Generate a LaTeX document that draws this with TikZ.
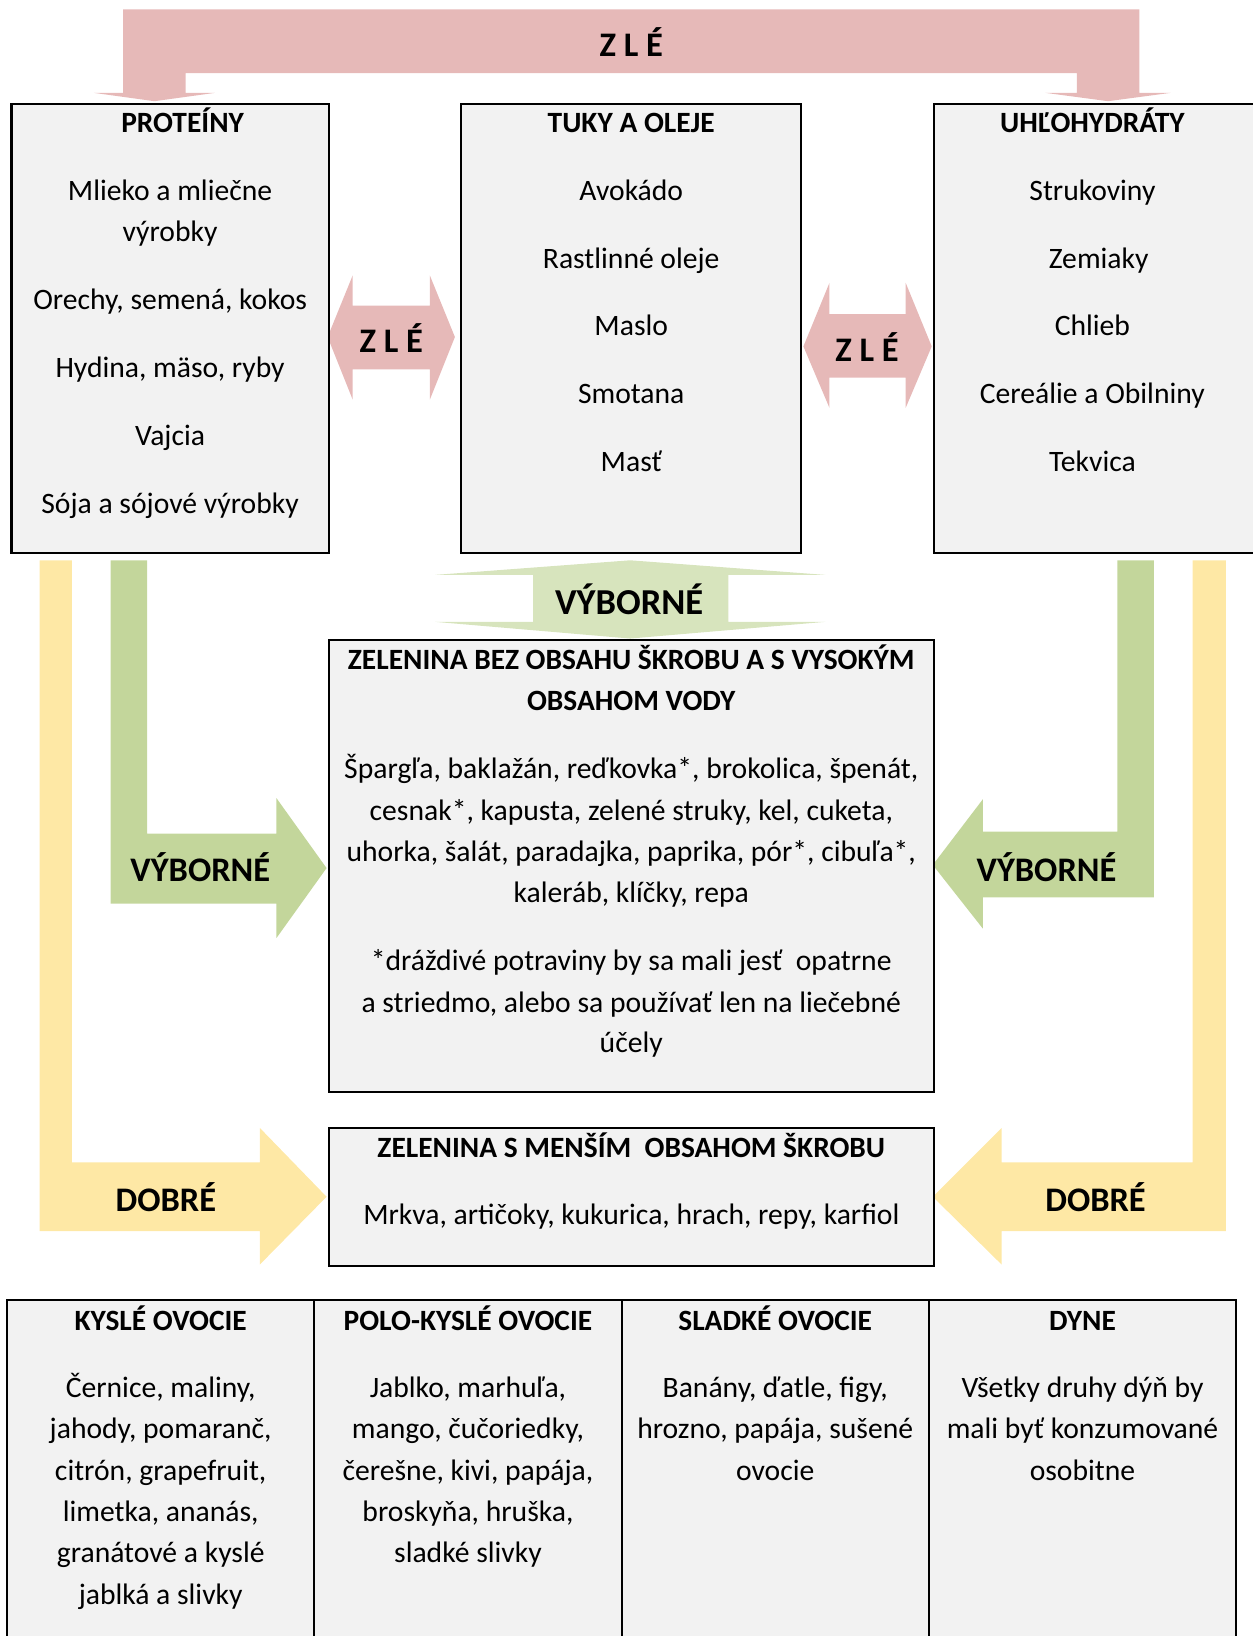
\documentclass[tikz,border=0pt]{standalone}
\usepackage{fontspec}
\setmainfont{Carlito}
\usepackage{tikz}
\definecolor{zlec}{HTML}{E6B9B8}
\definecolor{vybc}{HTML}{C3D69B}
\definecolor{vybl}{HTML}{D7E4BD}
\definecolor{dobc}{HTML}{FEE8A5}
\definecolor{boxc}{HTML}{F2F2F2}
\tikzset{box/.style={draw,fill=boxc,line width=1pt,inner sep=0pt,minimum height=215pt}}
\tikzset{txt/.style={anchor=base,yshift=-4.5pt,inner sep=0pt,font=\fontsize{14.2}{20}\selectfont}}
\tikzset{hd/.style={txt,font=\fontsize{14.1}{20}\selectfont\bfseries}}
\tikzset{lbl/.style={anchor=base,yshift=-5.5pt,inner sep=0pt,font=\fontsize{16.5}{20}\selectfont\bfseries}}

\begin{document}
\begin{tikzpicture}[x=0.5pt,y=-0.5pt]
\useasboundingbox(0,0)rectangle(1200,1568);
% block arrows
\fill[zlec](118,9)--(1092,9)--(1092,89)--(1122,89)--(1062,97)--(1002,89)--(1032,89)--(1032,70)--(178,70)--(178,89)--(206,89)--(148,97)--(90,89)--(118,89)--cycle;
\fill[zlec](314,323)--(338,264)--(338,293)--(412,293)--(412,264)--(436,323)--(412,383)--(412,354)--(338,354)--(338,383)--cycle;
\fill[zlec](770,332)--(795,271)--(795,301)--(868,301)--(868,271)--(893,332)--(868,391)--(868,362)--(795,362)--(795,391)--cycle;
\fill[vybl](604,537)--(791,551)--(698,551)--(698,596)--(791,596)--(604,612)--(417,596)--(511,596)--(511,551)--(417,551)--cycle;
\fill[vybc](106,537)--(141,537)--(141,799)--(265,799)--(265,765)--(313,832)--(265,899)--(265,866)--(106,866)--cycle;
\fill[vybc](1106,537)--(1071,537)--(1071,797)--(942,797)--(942,766)--(894,829)--(942,890)--(942,860)--(1106,860)--cycle;
\fill[dobc](38,537)--(69,537)--(69,1114)--(249,1114)--(249,1081)--(313,1147)--(249,1212)--(249,1180)--(38,1180)--cycle;
\fill[dobc](1175,537)--(1143,537)--(1143,1114)--(960,1114)--(960,1081)--(894,1147)--(960,1212)--(960,1180)--(1175,1180)--cycle;
% boxes
\node(prot)[box,minimum width=152pt]at(163,315){};
\node(tuky)[box,minimum width=163pt]at(605,315){};
\node(uhl)[box,minimum width=155pt]at(1050,315){};
\node(zel)[box,minimum width=290pt,minimum height=217pt]at(605,830){};
\node(men)[box,minimum width=290pt,minimum height=66pt]at(605,1147){};
\foreach \x[count=\i] in {154,448.5,743,1037.5}\node(ovk\i)[box,minimum width=147.25pt,minimum height=172pt]at(\x,1418){};
% labels on arrows
\node(zle1)[lbl]at(605,43){Z L É};\node(zle2)[lbl]at(375,327){Z L É};\node(zle3)[lbl]at(831,335){Z L É};
\node(vyb1)[lbl,font=\fontsize{17.5}{20}\selectfont\bfseries]at(603,578){VÝBORNÉ};
\node(vyb2)[lbl]at(192,834){VÝBORNÉ};\node(vyb3)[lbl]at(1003,834){VÝBORNÉ};
\node(dob1)[lbl]at(159,1150){DOBRÉ};\node(dob2)[lbl]at(1050,1150){DOBRÉ};
% top boxes
\node(protH)[hd]at(175,118){PROTEÍNY};
\foreach \t/\y[count=\i] in {Mlieko a mliečne/183,výrobky/222,{Orechy, semená, kokos}/288,{Hydina, mäso, ryby}/353,Vajcia/418,Sója a sójové výrobky/483}\node(prot\i)[txt]at(163,\y){\t};
\node(tukyH)[hd]at(605,118){TUKY A OLEJE};
\foreach \t/\y[count=\i] in {Avokádo/183,Rastlinné oleje/248,Maslo/313,Smotana/378,Masť/443}\node(tuky\i)[txt]at(605,\y){\t};
\node(uhlH)[hd]at(1047,118){UHĽOHYDRÁTY};
\foreach \t/\x/\y[count=\i] in {Strukoviny/1047/183,Zemiaky/1053/248,Chlieb/1047/313,Cereálie a Obilniny/1047/378,Tekvica/1047/443}\node(uhl\i)[txt]at(\x,\y){\t};
% vegetables
\node(zelH1)[hd]at(605,633){ZELENINA BEZ OBSAHU ŠKROBU A S VYSOKÝM};\node(zelH2)[hd]at(605,672){OBSAHOM VODY};
\foreach \t/\y[count=\i] in {{Špargľa, baklažán, reďkovka*, brokolica, špenát,}/737,{cesnak*, kapusta, zelené struky, kel, cuketa,}/777,{uhorka, šalát, paradajka, paprika, pór*, cibuľa*,}/817,{kaleráb, klíčky, repa}/856,*dráždivé potraviny by sa mali jesť~ opatrne/921,{a striedmo, alebo sa používať len na liečebné}/961,účely/1000}\node(zel\i)[txt]at(605,\y){\t};
\node(menH)[hd]at(605,1100){ZELENINA S MENŠÍM~ OBSAHOM ŠKROBU};
\node(men1)[txt]at(605,1165){Mrkva, artičoky, kukurica, hrach, repy, karfiol};
% fruit
\node(ovkH1)[hd]at(154,1266){KYSLÉ OVOCIE};\node(ovkH2)[hd]at(448.5,1266){POLO-KYSLÉ OVOCIE};
\node(ovkH3)[hd]at(743,1266){SLADKÉ OVOCIE};\node(ovkH4)[hd]at(1037.5,1266){DYNE};
\foreach \t/\y[count=\i] in {{Černice, maliny,}/1330,{jahody, pomaranč,}/1370,{citrón, grapefruit,}/1410,{limetka, ananás,}/1449,granátové a kyslé/1489,jablká a slivky/1529}\node(kys\i)[txt]at(154,\y){\t};
\foreach \t/\y[count=\i] in {{Jablko, marhuľa,}/1330,{mango, čučoriedky,}/1370,{čerešne, kivi, papája,}/1410,{broskyňa, hruška,}/1449,sladké slivky/1489}\node(pol\i)[txt]at(448.5,\y){\t};
\foreach \t/\y[count=\i] in {{Banány, ďatle, figy,}/1330,{hrozno, papája, sušené}/1370,ovocie/1410}\node(sla\i)[txt]at(743,\y){\t};
\foreach \t/\y[count=\i] in {Všetky druhy dýň by/1330,mali byť konzumované/1370,osobitne/1410}\node(dyn\i)[txt]at(1037.5,\y){\t};
\end{tikzpicture}
\end{document}
